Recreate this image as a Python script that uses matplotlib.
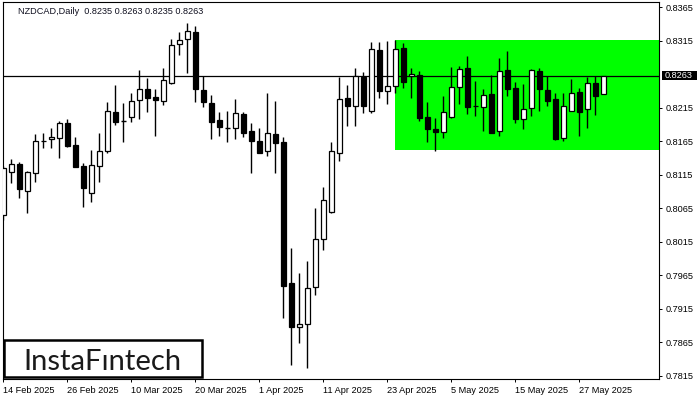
import numpy as np
import matplotlib
matplotlib.use("Agg")
import matplotlib.pyplot as plt
from matplotlib.patches import Rectangle
from matplotlib.transforms import blended_transform_factory

title = "NZDCAD,Daily  0.8235 0.8263 0.8235 0.8263"

opens = [0.8055, 0.8119, 0.8131, 0.8091, 0.8118, 0.8165, 0.8168, 0.8170, 0.8192, 0.8160,
         0.8128, 0.8088, 0.8128, 0.8151, 0.8209, 0.8195, 0.8201, 0.8227, 0.8243, 0.8231,
         0.8225, 0.8252, 0.8310, 0.8318, 0.8328, 0.8242, 0.8222, 0.8197, 0.8185, 0.8185,
         0.8206, 0.8180, 0.8165, 0.8151, 0.8176, 0.8164, 0.7953, 0.7888, 0.7892, 0.7948,
         0.8019, 0.8059, 0.8148, 0.8230, 0.8218, 0.8261, 0.8210, 0.8301, 0.8240, 0.8248,
         0.8304, 0.8262, 0.8264, 0.8201, 0.8183, 0.8179, 0.8201, 0.8246, 0.8274, 0.8218,
         0.8216, 0.8236, 0.8180, 0.8271, 0.8245, 0.8198, 0.8215, 0.8270, 0.8242, 0.8228,
         0.8170, 0.8210, 0.8239, 0.8213, 0.8252, 0.8235]
highs = [0.8128, 0.8139, 0.8134, 0.8121, 0.8176, 0.8177, 0.8185, 0.8195, 0.8198, 0.8171,
         0.8133, 0.8152, 0.8177, 0.8224, 0.8249, 0.8222, 0.8237, 0.8271, 0.8259, 0.8243,
         0.8274, 0.8318, 0.8328, 0.8342, 0.8337, 0.8262, 0.8234, 0.8209, 0.8210, 0.8228,
         0.8209, 0.8192, 0.8185, 0.8237, 0.8225, 0.8171, 0.8006, 0.7968, 0.7986, 0.8065,
         0.8097, 0.8164, 0.8261, 0.8249, 0.8274, 0.8268, 0.8313, 0.8313, 0.8315, 0.8316,
         0.8312, 0.8274, 0.8270, 0.8224, 0.8200, 0.8233, 0.8276, 0.8277, 0.8292, 0.8255,
         0.8243, 0.8264, 0.8289, 0.8300, 0.8254, 0.8251, 0.8273, 0.8274, 0.8262, 0.8237,
         0.8237, 0.8258, 0.8245, 0.8261, 0.8262, 0.8263]
lows = [0.8048, 0.8103, 0.8080, 0.8058, 0.8104, 0.8155, 0.8155, 0.8140, 0.8157, 0.8127,
        0.8067, 0.8074, 0.8104, 0.8148, 0.8189, 0.8164, 0.8194, 0.8198, 0.8209, 0.8173,
        0.8219, 0.8251, 0.8294, 0.8267, 0.8224, 0.8216, 0.8168, 0.8173, 0.8164, 0.8168,
        0.8171, 0.8118, 0.8148, 0.8143, 0.8118, 0.7901, 0.7831, 0.7864, 0.7827, 0.7936,
        0.8003, 0.8058, 0.8136, 0.8188, 0.8188, 0.8207, 0.8207, 0.8230, 0.8221, 0.8237,
        0.8245, 0.8230, 0.8195, 0.8164, 0.8151, 0.8170, 0.8200, 0.8221, 0.8206, 0.8203,
        0.8180, 0.8177, 0.8173, 0.8233, 0.8192, 0.8183, 0.8203, 0.8210, 0.8218, 0.8167,
        0.8165, 0.8210, 0.8173, 0.8185, 0.8204, 0.8235]
closes = [0.8125, 0.8131, 0.8094, 0.8119, 0.8165, 0.8166, 0.8171, 0.8192, 0.8158, 0.8127,
          0.8095, 0.8130, 0.8151, 0.8210, 0.8194, 0.8195, 0.8225, 0.8243, 0.8230, 0.8227,
          0.8257, 0.8309, 0.8316, 0.8330, 0.8243, 0.8224, 0.8194, 0.8186, 0.8185, 0.8207,
          0.8177, 0.8165, 0.8148, 0.8177, 0.8163, 0.7949, 0.7888, 0.7892, 0.7946, 0.8019,
          0.8077, 0.8151, 0.8228, 0.8218, 0.8262, 0.8218, 0.8303, 0.8240, 0.8248, 0.8303,
          0.8254, 0.8265, 0.8200, 0.8183, 0.8179, 0.8209, 0.8246, 0.8273, 0.8216, 0.8217,
          0.8234, 0.8177, 0.8270, 0.8243, 0.8198, 0.8213, 0.8271, 0.8243, 0.8225, 0.8168,
          0.8218, 0.8237, 0.8209, 0.8252, 0.8233, 0.8263]

date_labels = ["14 Feb 2025", "26 Feb 2025", "10 Mar 2025", "20 Mar 2025", "1 Apr 2025",
               "11 Apr 2025", "23 Apr 2025", "5 May 2025", "15 May 2025", "27 May 2025"]
date_positions = [0, 8, 16, 24, 32, 40, 48, 56, 64, 72]
price_ticks = [0.7815, 0.7865, 0.7915, 0.7965, 0.8015, 0.8065, 0.8115, 0.8165, 0.8215, 0.8315, 0.8365]

last_price = 0.8263
pattern_start = 49
pattern_top = 0.8316
pattern_bottom = 0.8152

W, H = 700, 400
FONT = "Liberation Sans"


def draw_candles(ax):
    x = np.arange(len(opens))
    o = np.array(opens)
    h = np.array(highs)
    l = np.array(lows)
    c = np.array(closes)
    ax.vlines(x, l, h, color="black", linewidth=1.0, zorder=3)
    for i in range(len(x)):
        body = abs(c[i] - o[i])
        if body < 0.00006:
            ax.hlines(c[i], x[i] - 0.28, x[i] + 0.28, color="black", linewidth=1.0, zorder=4)
            continue
        fill = "white" if c[i] >= o[i] else "black"
        ax.bar(x[i], body, bottom=min(o[i], c[i]), width=0.55, color=fill,
               edgecolor="black", linewidth=0.9, zorder=4)


def main():
    fig = plt.figure(figsize=(W / 100, H / 100), dpi=100)
    ax = fig.add_axes([3 / W, 21 / H, 656 / W, 377 / H])

    x_left, x_right = -0.06, 81.94
    ax.set_xlim(x_left, x_right)
    ax.set_ylim(0.78102, 0.83729)

    # green pattern box
    ax.add_patch(Rectangle((pattern_start, pattern_bottom), x_right - pattern_start,
                           pattern_top - pattern_bottom, facecolor="#00ff00",
                           edgecolor="none", zorder=1))
    ax.axhline(last_price, color="black", linewidth=0.9, zorder=2)

    draw_candles(ax)

    ax.yaxis.tick_right()
    ax.set_yticks(price_ticks)
    ax.set_yticklabels([f"{p:.4f}" for p in price_ticks], fontname=FONT, fontsize=6.6)
    ax.set_xticks(date_positions)
    ax.set_xticklabels(date_labels, fontname=FONT, fontsize=6.6)
    for lab in ax.get_xticklabels():
        lab.set_ha("left")
    ax.tick_params(axis="both", direction="out", length=2.5, width=0.7, pad=2.5, colors="black")
    for s in ax.spines.values():
        s.set_linewidth(0.8)

    # current price tag on the right axis
    trans = blended_transform_factory(ax.transAxes, ax.transData)
    ax.add_patch(Rectangle((1 + 2.7 / 656, last_price - 0.00069), 35 / 656, 0.00138,
                           facecolor="black", edgecolor="none", transform=trans,
                           clip_on=False, zorder=6))
    ax.text(1 + 5.5 / 656, last_price, f"{last_price:.4f}", transform=trans, color="white",
            fontname=FONT, fontsize=6.6, va="center", ha="left", zorder=7, clip_on=False)

    fig.text(18 / W, 1 - 11 / H, title, fontname=FONT, fontsize=6.6, color="#101020",
             va="center", ha="left")

    # logo box
    fig.patches.append(Rectangle((3.5 / W, 23 / H), 198 / W, 37 / H, transform=fig.transFigure,
                                 facecolor="white", edgecolor="black", linewidth=1.8, zorder=10))
    fig.text(102 / W, 30 / H, "InstaF\u0131ntech", fontname="Lato", fontweight="normal",
             fontsize=21, color="#1a1a1a", ha="center", va="baseline", zorder=11)

    fig.savefig("out.png", dpi=100, facecolor="white")


if __name__ == "__main__":
    main()
